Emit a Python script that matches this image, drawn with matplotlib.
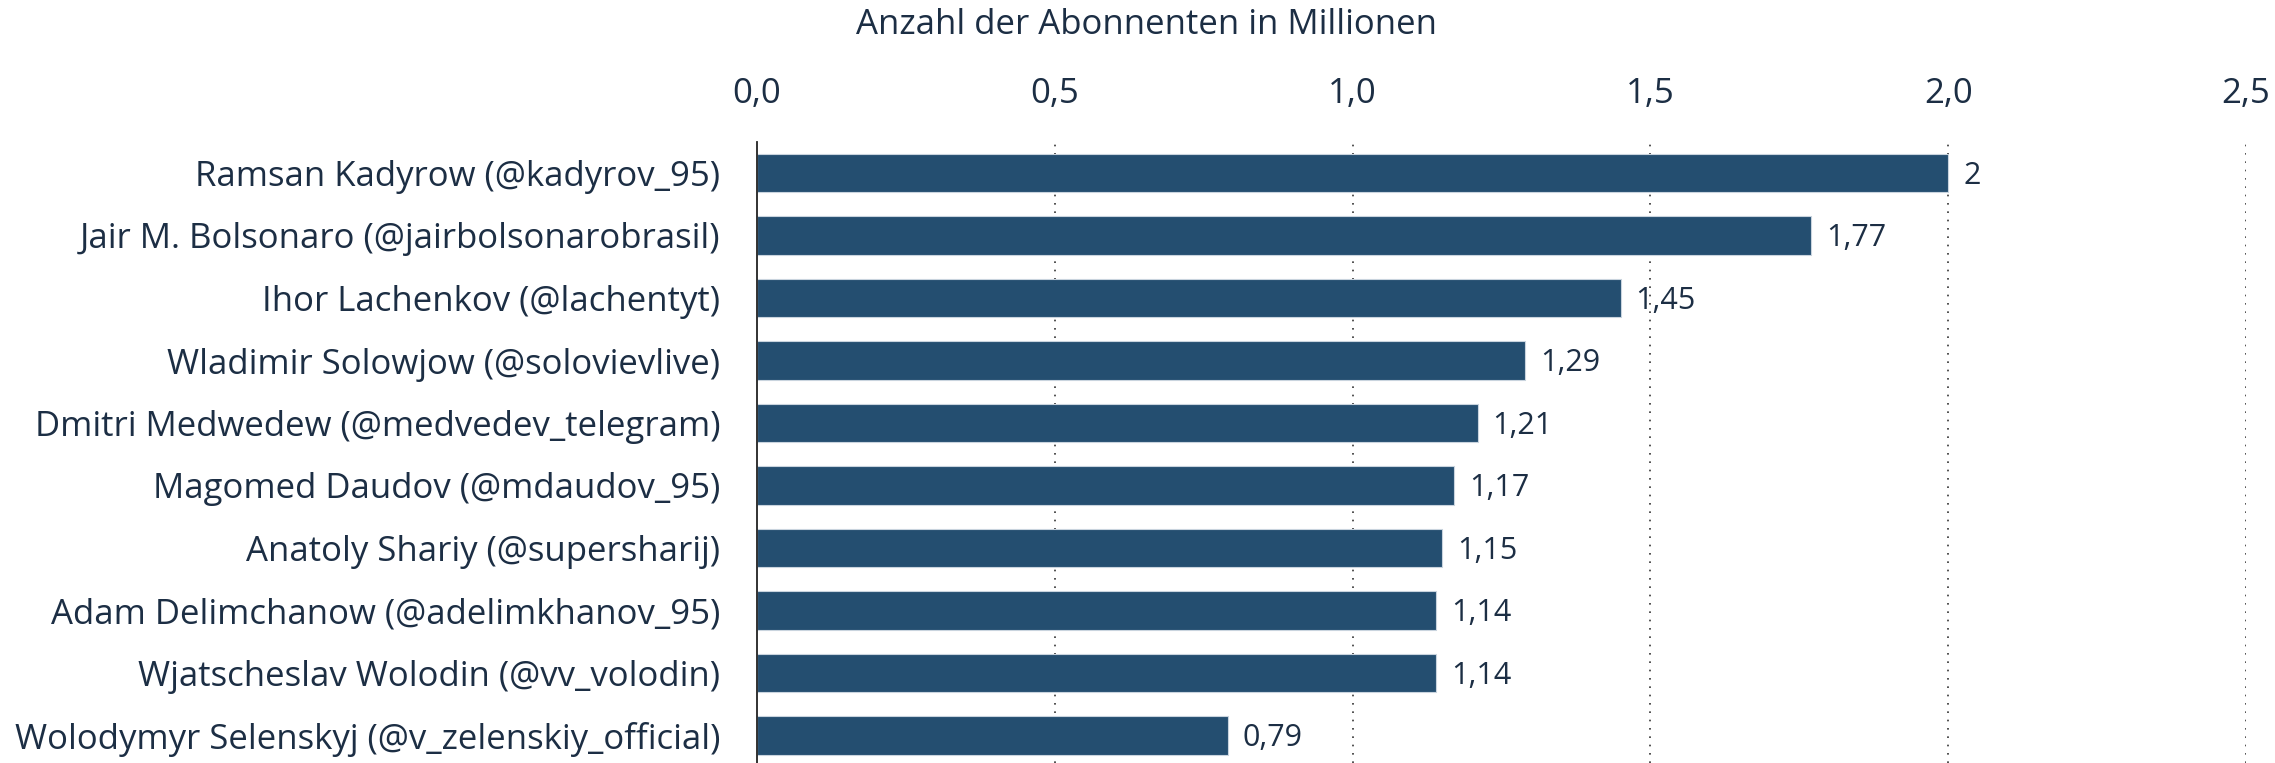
import matplotlib
matplotlib.use("Agg")
import matplotlib.pyplot as plt

categories = [
    "Ramsan Kadyrow (@kadyrov_95)",
    "Jair M. Bolsonaro (@jairbolsonarobrasil)",
    "Ihor Lachenkov (@lachentyt)",
    "Wladimir Solowjow (@solovievlive)",
    "Dmitri Medwedew (@medvedev_telegram)",
    "Magomed Daudov (@mdaudov_95)",
    "Anatoly Shariy (@supersharij)",
    "Adam Delimchanow (@adelimkhanov_95)",
    "Wjatscheslav Wolodin (@vv_volodin)",
    "Wolodymyr Selenskyj (@v_zelenskiy_official)",
]
values = [2.0, 1.77, 1.45, 1.29, 1.21, 1.17, 1.15, 1.14, 1.14, 0.79]
xticks = [0.0, 0.5, 1.0, 1.5, 2.0, 2.5]
xtick_labels = ["0,0", "0,5", "1,0", "1,5", "2,0", "2,5"]
axis_title = "Anzahl der Abonnenten in Millionen"

plt.rcParams["font.family"] = ["Open Sans", "DejaVu Sans"]
TEXT = "#1c2e44"
BAR = "#244e70"

W, H = 2275, 763
fig = plt.figure(figsize=(W / 100, H / 100), dpi=100)
left, right, top = 757 / W, 2246 / W, 142 / H
ax = fig.add_axes([left, 0.0, right - left, 1 - top])

ypos = list(range(len(categories)))
ax.barh(ypos, values, height=0.61, color=BAR, edgecolor="#c9d4de",
        linewidth=0.8, zorder=3)

ax.set_xlim(0, 2.5)
ax.set_ylim(9 + 27.5 / 62.5, -31 / 62.5)

ax.set_yticks(ypos)
ax.set_yticklabels(categories, fontsize=25, color=TEXT)
ax.tick_params(axis="y", length=0, pad=26.5)

ax.xaxis.tick_top()
ax.set_xticks(xticks)
ax.set_xticklabels(xtick_labels, fontsize=25, color=TEXT)
ax.tick_params(axis="x", length=0, pad=22)

for s in ["top", "right", "bottom"]:
    ax.spines[s].set_visible(False)
ax.spines["left"].set_color("#222222")
ax.spines["left"].set_linewidth(1.3)
ax.spines["left"].set_zorder(4)

for xv in xticks[1:]:
    ax.axvline(xv, color="#333333", linestyle=(0, (1, 4)), linewidth=1.2, zorder=1)

for y, v in zip(ypos, values):
    lab = f"{v:g}".replace(".", ",")
    ax.annotate(lab, xy=(v, y), xytext=(10.8, -2), textcoords="offset points",
                ha="left", va="center", fontsize=22, color=TEXT)

fig.text(1146 / W, 1 - 25 / H, axis_title, ha="center", va="center",
         fontsize=25, color=TEXT)

fig.savefig("out.png", dpi=100, facecolor="white")
